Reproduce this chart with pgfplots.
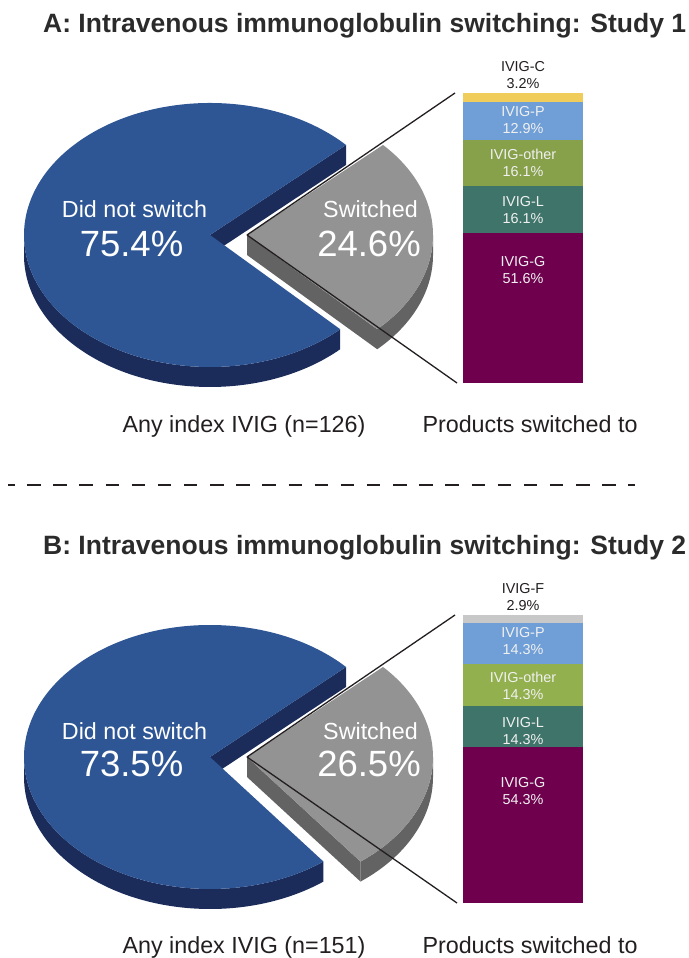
\documentclass[border=0pt]{standalone}
\usepackage{fontspec}
\setmainfont{Liberation Sans}
\usepackage{pgfplots}
\pgfplotsset{compat=1.18}
\usetikzlibrary{calc}
\definecolor{bluetop}{HTML}{2E5594}
\definecolor{blueside}{HTML}{1B2C5B}
\definecolor{graytop}{HTML}{939393}
\definecolor{grayside}{HTML}{636363}
\definecolor{cG}{HTML}{6E004E}
\definecolor{cL}{HTML}{3E7469}
\definecolor{cOtherA}{HTML}{87A04A}
\definecolor{cOtherB}{HTML}{93B04F}
\definecolor{cP}{HTML}{6F9FD6}
\definecolor{cC}{HTML}{F0CC5A}
\definecolor{cF}{HTML}{C8C8C8}
\definecolor{txt}{HTML}{231F20}
\definecolor{ttl}{HTML}{2B2B2B}
\newcommand{\PRX}{186pt}
\newcommand{\PRY}{132pt}
\newcommand{\PTH}{20pt}
% #1,#2 centre of the "did not switch" slice (px), #3 centre x of the exploded slice, #4 switched percent
\newcommand{\threedpie}[4]{%
  \coordinate (PB) at (axis cs:#1,#2);
  \coordinate (PS) at (axis cs:#3,#2);
  \fill[blueside] ($(PB)+(180:186pt and 132pt)$) arc[start angle=180, end angle={403-3.6*#4}, x radius=\PRX, y radius=\PRY] -- ++(0,-\PTH) arc[start angle={403-3.6*#4}, end angle=180, x radius=\PRX, y radius=\PRY] -- cycle;
  \fill[blueside] (PB) -- ($(PB)+(43:186pt and 132pt)$) -- ++(0,-\PTH) -- ($(PB)+(0,-\PTH)$) -- cycle;
  \fill[bluetop] (PB) -- ($(PB)+(43:186pt and 132pt)$) arc[start angle=43, end angle={403-3.6*#4}, x radius=\PRX, y radius=\PRY] -- cycle;
  \fill[grayside] ($(PS)+({43-3.6*#4}:186pt and 132pt)$) arc[start angle={43-3.6*#4}, end angle=0, x radius=\PRX, y radius=\PRY] -- ++(0,-\PTH) arc[start angle=0, end angle={43-3.6*#4}, x radius=\PRX, y radius=\PRY] -- cycle;
  \fill[grayside] (PS) -- ($(PS)+({43-3.6*#4}:186pt and 132pt)$) -- ++(0,-\PTH) -- ($(PS)+(0,-\PTH)$) -- cycle;
  \fill[graytop] (PS) -- ($(PS)+({43-3.6*#4}:186pt and 132pt)$) arc[start angle={43-3.6*#4}, end angle=43, x radius=\PRX, y radius=\PRY] -- cycle;
}
\tikzset{
  ttlfont/.style={font=\fontsize{26.5}{32}\selectfont\bfseries, text=ttl, inner sep=0pt, anchor=base west},
  smallpie/.style={font=\fontsize{23.3}{28}\selectfont, text=white, inner sep=0pt, anchor=base},
  bigpie/.style={font=\fontsize{36.5}{42}\selectfont, text=white, inner sep=0pt, anchor=base},
  bottomlab/.style={font=\fontsize{23.3}{28}\selectfont, text=txt, inner sep=0pt, anchor=base},
  barlab/.style={align=center, font=\fontsize{14.4}{17}\selectfont, text=white!94!black, inner sep=0pt},
  toplab/.style={align=center, font=\fontsize{14.4}{17}\selectfont, text=txt, inner sep=0pt},
}
\pgfplotsset{
  baraxis/.style={anchor=south west, scale only axis, width=120pt, xmin=-0.5, xmax=0.5, ymin=0,
    hide axis, clip=false, ybar stacked, bar width=120pt},
  labaxis/.style={anchor=south west, scale only axis, width=120pt, xmin=-0.5, xmax=0.5, ymin=0,
    hide axis, clip=false},
}
\begin{document}
\begin{tikzpicture}
\useasboundingbox (0,0) rectangle (688pt,958pt);
% ---------- canvas axis in pixel units (y measured from the bottom) ----------
\begin{axis}[at={(0pt,0pt)}, anchor=south west, scale only axis, width=688pt, height=958pt,
  xmin=0, xmax=688, ymin=0, ymax=958, hide axis, clip=false]
\addplot[draw=none] coordinates {(0,0)};
% titles
\node[ttlfont] at (axis cs:43,925) {A: Intravenous immunoglobulin switching: Study 1};
\node[ttlfont] at (axis cs:43,403) {B: Intravenous immunoglobulin switching: Study 2};
% separator
\draw[line width=1.4pt, color=txt, dash pattern=on 13.5pt off 12.64pt, dash phase=7pt] (axis cs:8,473) -- (axis cs:635,473);
% pies
\threedpie{210}{723}{247}{24.6}
\threedpie{210}{201}{247}{26.5}
% connector lines
\draw[line width=1.3pt, color=txt] (axis cs:247,723) -- (axis cs:455,865);
\draw[line width=1.3pt, color=txt] (axis cs:247,723) -- (axis cs:457,575);
\draw[line width=1.3pt, color=txt] (axis cs:247,201) -- (axis cs:455,343);
\draw[line width=1.3pt, color=txt] (axis cs:247,201) -- (axis cs:457,55);
% pie labels
\node[smallpie] at (axis cs:134.5,740) {Did not switch};
\node[bigpie] at (axis cs:131.5,701) {75.4\%};
\node[smallpie] at (axis cs:370.5,740) {Switched};
\node[bigpie] at (axis cs:369,701) {24.6\%};
\node[smallpie] at (axis cs:134.5,218) {Did not switch};
\node[bigpie] at (axis cs:131.5,181) {73.5\%};
\node[smallpie] at (axis cs:370.5,218) {Switched};
\node[bigpie] at (axis cs:369,181) {26.5\%};
% bottom labels
\node[bottomlab] at (axis cs:244,525) {Any index IVIG (n=126)};
\node[bottomlab] at (axis cs:530,525) {Products switched to};
\node[bottomlab] at (axis cs:244,5) {Any index IVIG (n=151)};
\node[bottomlab] at (axis cs:530,5) {Products switched to};
\end{axis}
% ---------- stacked bar, study 1 ----------
\begin{axis}[baraxis, at={(463pt,574.7pt)}, height=290.6pt, ymax=99.9]
\addplot[fill=cG, draw=none] coordinates {(0,51.6)};
\addplot[fill=cL, draw=none] coordinates {(0,16.1)};
\addplot[fill=cOtherA, draw=none] coordinates {(0,16.1)};
\addplot[fill=cP, draw=none] coordinates {(0,12.9)};
\addplot[fill=cC, draw=none] coordinates {(0,3.2)};
\end{axis}
\begin{axis}[labaxis, at={(463pt,574.7pt)}, height=290.6pt, ymax=99.9]
\addplot[draw=none] coordinates {(0,0)};
\node[barlab] at (axis cs:0,39.0) {IVIG-G\\51.6\%};
\node[barlab] at (axis cs:0,59.6) {IVIG-L\\16.1\%};
\node[barlab] at (axis cs:0,75.8) {IVIG-other\\16.1\%};
\node[barlab] at (axis cs:0,90.4) {IVIG-P\\12.9\%};
\node[toplab] at (axis cs:0,105.8) {IVIG-C\\3.2\%};
\end{axis}
% ---------- stacked bar, study 2 ----------
\begin{axis}[baraxis, at={(463pt,55pt)}, height=288pt, ymax=100.1]
\addplot[fill=cG, draw=none] coordinates {(0,54.3)};
\addplot[fill=cL, draw=none] coordinates {(0,14.3)};
\addplot[fill=cOtherB, draw=none] coordinates {(0,14.3)};
\addplot[fill=cP, draw=none] coordinates {(0,14.3)};
\addplot[fill=cF, draw=none] coordinates {(0,2.9)};
\end{axis}
\begin{axis}[labaxis, at={(463pt,55pt)}, height=288pt, ymax=100.1]
\addplot[draw=none] coordinates {(0,0)};
\node[barlab] at (axis cs:0,39.0) {IVIG-G\\54.3\%};
\node[barlab] at (axis cs:0,59.9) {IVIG-L\\14.3\%};
\node[barlab] at (axis cs:0,75.4) {IVIG-other\\14.3\%};
\node[barlab] at (axis cs:0,91.0) {IVIG-P\\14.3\%};
\node[toplab] at (axis cs:0,106.5) {IVIG-F\\2.9\%};
\end{axis}
\end{tikzpicture}
\end{document}
